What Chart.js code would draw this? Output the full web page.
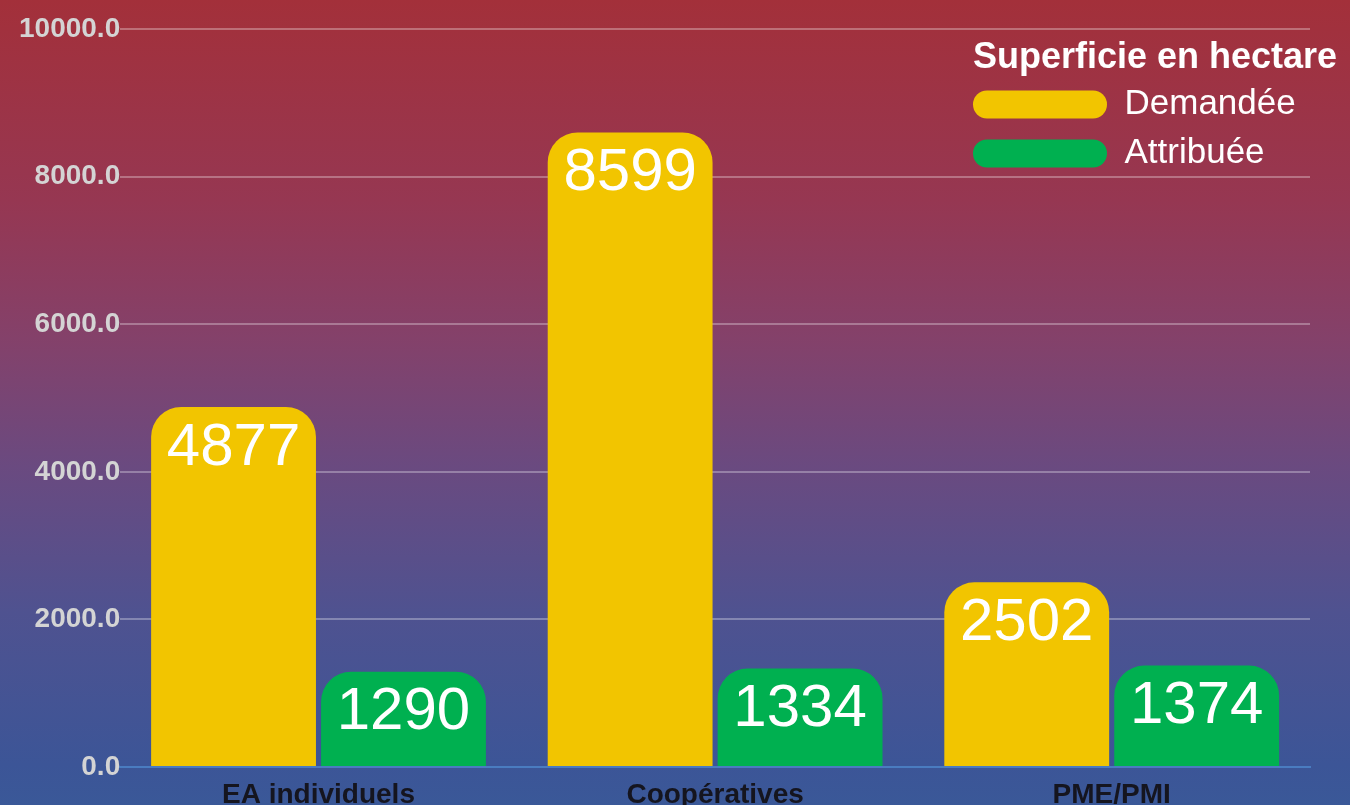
<!DOCTYPE html>
<html>
<head>
<meta charset="utf-8">
<script src="https://cdn.jsdelivr.net/npm/chart.js@4.4.0/dist/chart.umd.min.js"></script>
<style>
  html, body { margin: 0; padding: 0; }
  body {
    width: 1350px; height: 805px; overflow: hidden;
    background: linear-gradient(to bottom, #a3303a 0%, #963752 25%, #84416a 42%, #6a4a80 58%, #4f5290 76%, #3c5597 95%, #3a5898 100%);
  }
  canvas { display: block; }
</style>
</head>
<body>
<canvas id="chart" width="1350" height="805"></canvas>
<script>
// data
const categories = ["EA individuels", "Coopératives", "PME/PMI"];
const demandee = [4877, 8599, 2502];
const attribuee = [1290, 1334, 1374];
const seriesNames = ["Demandée", "Attribuée"];
const legendTitle = "Superficie en hectare";
const yTicks = [0, 2000, 4000, 6000, 8000, 10000];

const yellow = "#f2c500";
const green = "#00b050";
const fontFamily = "Liberation Sans, Arial, sans-serif";

// value labels inside the bars
const valueLabels = {
  id: "valueLabels",
  afterDatasetsDraw(chart) {
    const ctx = chart.ctx;
    ctx.save();
    ctx.fillStyle = "#ffffff";
    ctx.font = "60px " + fontFamily;
    ctx.textAlign = "center";
    ctx.textBaseline = "middle";
    chart.data.datasets.forEach((ds, i) => {
      chart.getDatasetMeta(i).data.forEach((bar, j) => {
        ctx.fillText(String(ds.data[j]), bar.x, bar.y + 41);
      });
    });
    ctx.restore();
  }
};

// move the legend to the top right corner of the plot
const legendRight = {
  id: "legendRight",
  afterLayout(chart) {
    const lg = chart.legend;
    if (!lg) return;
    lg.left = 959;
    lg.width = 392;
    lg.right = lg.left + lg.width;
  }
};

const ctx = document.getElementById("chart").getContext("2d");
const myChart = new Chart(ctx, {
  type: "bar",
  data: {
    labels: categories,
    datasets: [
      {
        label: seriesNames[0],
        data: demandee,
        backgroundColor: yellow,
        borderRadius: { topLeft: 30, topRight: 30 },
        borderSkipped: "start",
      },
      {
        label: seriesNames[1],
        data: attribuee,
        backgroundColor: green,
        borderRadius: { topLeft: 30, topRight: 30 },
        borderSkipped: "start",
      },
    ],
  },
  options: {
    responsive: false,
    animation: false,
    devicePixelRatio: 1,
    categoryPercentage: 0.857,
    barPercentage: 0.97,
    layout: { padding: { left: 19, right: 40, top: 29, bottom: -18 } },
    plugins: {
      tooltip: { enabled: false },
      legend: {
        position: "chartArea",
        align: "start",
        title: {
          display: true,
          text: legendTitle,
          color: "#ffffff",
          font: { family: fontFamily, size: 36, weight: "bold", lineHeight: 1 },
          padding: { top: 40, bottom: -3 },
        },
        labels: {
          color: "#ffffff",
          font: { family: fontFamily, size: 35 },
          boxWidth: 134,
          boxHeight: 28,
          padding: 14,
          useBorderRadius: true,
          borderRadius: 14,
        },
      },
    },
    scales: {
      x: {
        grid: { display: false, drawTicks: false },
        border: { display: true, color: "#4a7cc0", width: 2 },
        ticks: {
          color: "#15151f",
          padding: 14,
          font: { family: fontFamily, size: 28, weight: "bold", lineHeight: 1 },
        },
      },
      y: {
        min: yTicks[0],
        max: yTicks[yTicks.length - 1],
        afterBuildTicks(axis) {
          axis.ticks = yTicks.map((v) => ({ value: v }));
        },
        grid: { color: "rgba(255,255,255,0.3)", lineWidth: 2, drawTicks: false },
        border: { display: false },
        ticks: {
          color: "#d4d4d4",
          padding: 0,
          font: { family: fontFamily, size: 28, weight: "bold" },
          callback: (v) => Number(v).toFixed(1),
        },
      },
    },
  },
  plugins: [valueLabels, legendRight],
});
</script>
</body>
</html>
